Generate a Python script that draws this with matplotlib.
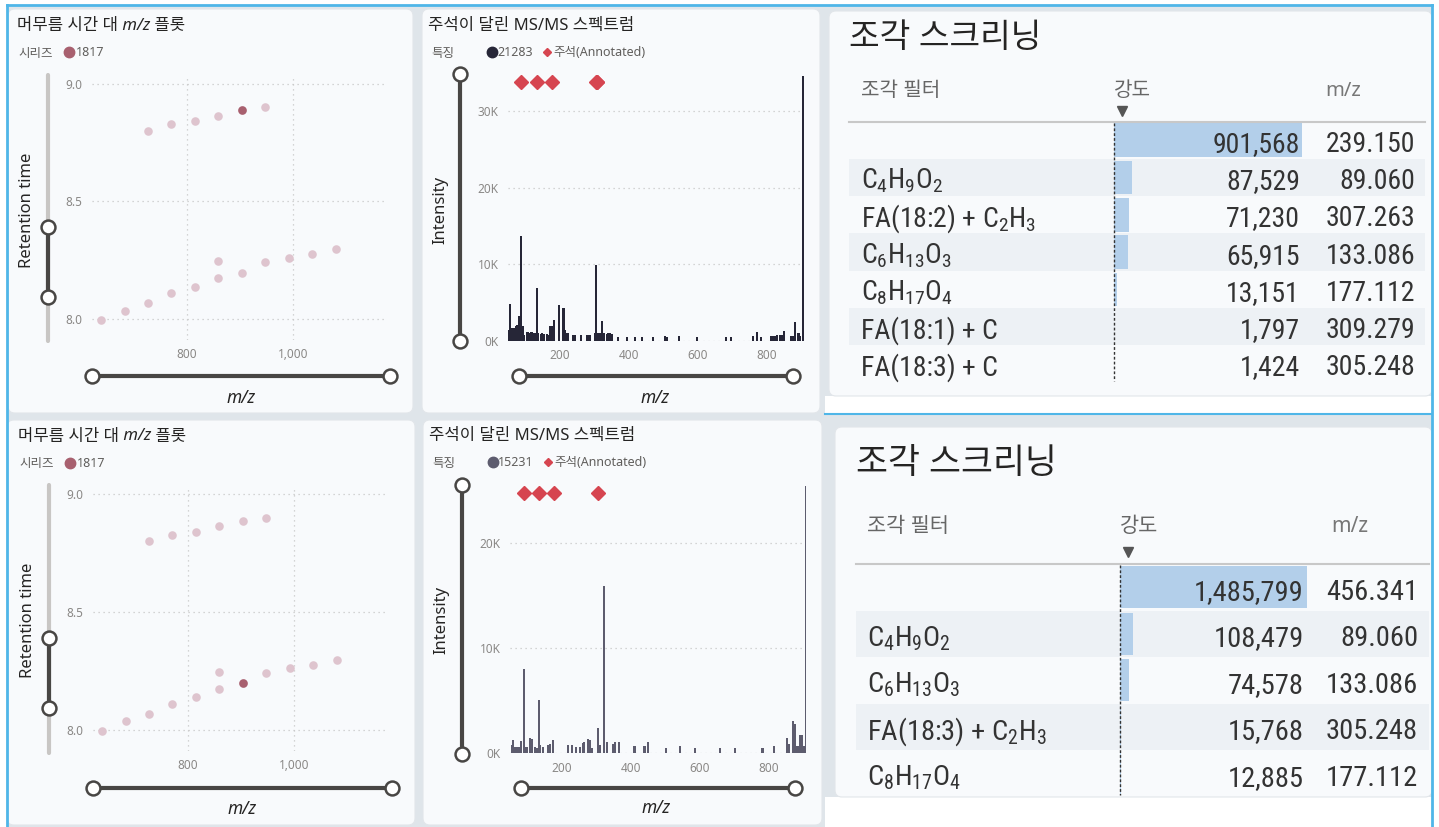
import numpy as np
import matplotlib
matplotlib.use('Agg')
import matplotlib.pyplot as plt
import matplotlib.transforms as mtransforms
from matplotlib import font_manager
from matplotlib.patches import FancyBboxPatch, Rectangle
from matplotlib.ticker import FuncFormatter

W, H = 1439, 827

# retention time vs m/z, two homologous series
upper_mz = [727.4, 771.2, 815.6, 859.3, 903.7, 947.4]
upper_rt = [8.800, 8.827, 8.840, 8.863, 8.887, 8.900]
lower_mz = [639.3, 683.8, 727.4, 771.2, 815.6, 859.3, 859.3, 903.7, 947.4, 991.8, 1035.5, 1079.9]
lower_rt = [7.996, 8.037, 8.068, 8.110, 8.138, 8.175, 8.246, 8.198, 8.243, 8.262, 8.277, 8.298]
series_name = '1817'
sel_top = (903.7, 8.887)
sel_bottom = (903.7, 8.198)

# MS/MS spectrum of feature 21283
feat_top = '21283'
spec_top_mz = [53, 56, 62, 67, 72, 77, 82, 85, 89, 93, 97, 104, 108, 112, 116, 120, 127, 133, 137,
               145, 149, 155, 162, 167, 172, 177, 183, 198, 211, 215, 220, 225, 240, 245, 261, 278,
               283, 288, 302, 306, 310, 317, 322, 327, 336, 341, 347, 352, 370, 394, 418, 438, 470,
               505, 512, 547, 597, 682, 697, 760, 773, 783, 812, 818, 825, 831, 838, 844, 851, 871,
               876, 881, 892, 896, 904]
spec_top_int = [1500, 4800, 1700, 1700, 1900, 2100, 3200, 2000, 13700, 2000, 800, 1200, 1200, 1100,
                1200, 1200, 1000, 6900, 1000, 900, 1100, 900, 900, 800, 2000, 2000, 2800, 4700, 4300,
                1400, 1000, 1000, 800, 800, 800, 800, 800, 800, 1000, 9900, 1000, 1100, 2600, 1000,
                900, 1000, 1000, 900, 500, 500, 500, 500, 500, 700, 500, 600, 550, 550, 550, 600,
                1200, 550, 700, 700, 700, 800, 800, 800, 1300, 600, 600, 2500, 1100, 600, 34600]

# MS/MS spectrum of feature 15231
feat_bottom = '15231'
spec_bot_mz = [54, 59, 64, 69, 74, 81, 89, 93, 98, 107, 112, 122, 127, 133, 136, 146, 160, 165, 175,
               218, 228, 241, 252, 260, 265, 276, 281, 286, 303, 310, 323, 330, 347, 354, 366, 410,
               439, 448, 501, 542, 586, 658, 700, 781, 813, 852, 857, 869, 874, 880, 886, 890, 895,
               900, 906]
spec_bot_int = [800, 1300, 600, 600, 600, 1200, 8000, 600, 600, 1500, 1400, 600, 500, 5100, 800, 600,
                800, 850, 1300, 800, 800, 600, 600, 950, 1100, 1400, 1300, 550, 2400, 800, 15900, 1100,
                850, 1100, 1100, 700, 700, 1050, 550, 700, 550, 550, 550, 550, 700, 1500, 900, 3100,
                2800, 700, 700, 1700, 1700, 700, 25400]

# fragment screening tables
frag_top = ['', 'C$_4$H$_9$O$_2$', 'FA(18:2) + C$_2$H$_3$', 'C$_6$H$_{13}$O$_3$',
            'C$_8$H$_{17}$O$_4$', 'FA(18:1) + C', 'FA(18:3) + C']
int_top = [901568, 87529, 71230, 65915, 13151, 1797, 1424]
mz_top = [239.150, 89.060, 307.263, 133.086, 177.112, 309.279, 305.248]

frag_bot = ['', 'C$_4$H$_9$O$_2$', 'C$_6$H$_{13}$O$_3$', 'FA(18:3) + C$_2$H$_3$', 'C$_8$H$_{17}$O$_4$']
int_bot = [1485799, 108479, 74578, 15768, 12885]
mz_bot = [456.341, 89.060, 133.086, 305.248, 177.112]

# ---- fonts / colours ----
_fonts = font_manager.fontManager.ttflist
_names = {f.name for f in _fonts}
NUM = ['Roboto']
for cand in ['Liberation Sans Narrow', 'Roboto Condensed', 'Open Sans Condensed', 'Noto Sans Display']:
    if cand in _names:
        NUM = [cand]
        break
ITAL = ['Noto Sans'] if any(f.name == 'Noto Sans' and f.style == 'italic' for f in _fonts) else ['DejaVu Sans']
plt.rcParams['font.family'] = ['Noto Sans', 'Noto Sans CJK KR', 'DejaVu Sans']
plt.rcParams['mathtext.default'] = 'regular'

INK = '#252423'
SOFT = '#605e5c'
TICK = '#8a8886'
GRID = '#c8c8c8'
FAINT = '#dec4ce'
HILITE = '#a8606f'
RED = '#d64550'
KNOB = '#484644'
TRACK = '#c8c6c4'
BLUE = '#4fb6e8'
PANEL = '#f8fafc'
BAND = '#edf1f5'
DATABAR = '#b3cfea'

fig = plt.figure(figsize=(W / 100, H / 100), dpi=100)
fig.patch.set_facecolor('#dfe5ea')


def px_axes(x0, y0, x1, y1, z=1):
    ax = fig.add_axes([x0 / W, 1 - y1 / H, (x1 - x0) / W, (y1 - y0) / H], zorder=z)
    ax.set_facecolor('none')
    return ax


bg = px_axes(0, 0, W, H, z=0)
ui = px_axes(0, 0, W, H, z=3)
for a in (bg, ui):
    a.set_xlim(0, W)
    a.set_ylim(H, 0)
    a.axis('off')

# page frame
for r in [(0, 0, W, 5), (0, 0, 7, H), (1432, 0, 7, H), (825, 396, 607, 17), (825, 797, 607, 30)]:
    bg.add_patch(Rectangle(r[:2], r[2], r[3], fc='white', ec='none'))
for (x0, y0, x1, y1) in [(8, 9, 413, 413), (422, 9, 820, 413), (7, 420, 415, 825), (423, 420, 822, 825),
                         (829, 11, 1432, 396), (835, 427, 1432, 797)]:
    bg.add_patch(FancyBboxPatch((x0, y0), x1 - x0, y1 - y0, boxstyle='round,pad=0,rounding_size=7',
                                fc=PANEL, ec='#e2e6ea', lw=0.8))
bg.plot([7, 1432], [5, 5], color=BLUE, lw=2)
bg.plot([7, 7], [5, H], color=BLUE, lw=2)
bg.plot([1432, 1432], [5, H], color=BLUE, lw=2)
bg.plot([825, 1432], [414, 414], color=BLUE, lw=1.5)


def v_slider(x, y0, y1, k0, k1, track=True):
    if track:
        ui.plot([x, x], [y0, y1], color=TRACK, lw=3, solid_capstyle='round')
    ui.plot([x, x], [k0, k1], color=KNOB, lw=3)
    ui.plot([x, x], [k0, k1], 'o', ms=10, mfc='white', mec=KNOB, mew=1.8)


def h_slider(y, x0, x1):
    ui.plot([x0, x1], [y, y], color=KNOB, lw=3)
    ui.plot([x0, x1], [y, y], 'o', ms=10, mfc='white', mec=KNOB, mew=1.8)


def mz_title(x, y, before, after):
    t = ui.text(x, y, before, fontsize=12, color=INK, va='baseline')
    t2 = ui.annotate(' m/z', xy=(1, y), xycoords=(t, 'data'), fontsize=12, color=INK,
                     va='baseline', style='italic', family=ITAL)
    ui.annotate(after, xy=(1, y), xycoords=(t2, 'data'), fontsize=12, color=INK, va='baseline')


def style_axes(ax):
    for s in ax.spines.values():
        s.set_visible(False)
    ax.tick_params(length=0, labelsize=8.5, labelcolor=TICK)


def rt_panel(ox, oy, sel):
    ax = px_axes(91.7 + ox, 75 + oy, 386.7 + ox, 340 + oy)
    ax.set_xlim(622, 1175)
    ax.set_ylim(7.912, 9.037)
    ax.scatter(upper_mz, upper_rt, s=38, color=FAINT, lw=0, zorder=2)
    ax.scatter(lower_mz, lower_rt, s=38, color=FAINT, lw=0, zorder=2)
    ax.scatter([sel[0]], [sel[1]], s=38, color=HILITE, lw=0, zorder=3)
    ax.set_xticks([800, 1000])
    ax.xaxis.set_major_formatter(FuncFormatter(lambda v, p: f'{v:,.0f}'))
    ax.set_yticks([8.0, 8.5, 9.0])
    ax.yaxis.set_major_formatter(FuncFormatter(lambda v, p: f'{v:.1f}'))
    ax.grid(True, ls=(0, (1, 3)), color=GRID, lw=0.9)
    ax.set_axisbelow(True)
    style_axes(ax)
    ax.tick_params(axis='y', pad=7)
    ax.tick_params(axis='x', pad=6)

    mz_title(17 + ox, 30 + oy, '머무름 시간 대', ' 플롯')
    ui.text(18 + ox, 53 + oy, '시리즈', fontsize=9, color=SOFT, va='center')
    ui.plot(69 + ox, 52 + oy, 'o', ms=7.5, color=HILITE)
    ui.text(76 + ox, 53 + oy, series_name, fontsize=9, color=SOFT, va='center')
    ui.text(27 + ox, 210 + oy, 'Retention time', fontsize=12, color=INK, rotation=90,
            ha='center', va='center')
    ui.text(241 + ox, 398 + oy, 'm/z', fontsize=12.5, color=INK, style='italic', family=ITAL,
            ha='center', va='center')


def spectrum_panel(box, xlim, ymax, mz, inten, ann_mz, feat, color, ox, oy):
    ax = px_axes(*box)
    ax.bar(mz, inten, width=6, color=color, lw=0, zorder=2)
    ax.set_xlim(*xlim)
    ax.set_ylim(0, ymax)
    tr = mtransforms.blended_transform_factory(ax.transData, ax.transAxes)
    ax.plot(ann_mz, [0.97] * len(ann_mz), 'D', ms=7.2, color=RED, transform=tr, clip_on=False, zorder=3)
    ax.set_xticks([200, 400, 600, 800])
    ax.set_yticks(np.arange(0, ymax, 10000))
    ax.yaxis.set_major_formatter(FuncFormatter(lambda v, p: f'{v / 1000:.0f}K'))
    ax.yaxis.grid(True, ls=(0, (1, 3)), color=GRID, lw=0.9)
    ax.set_axisbelow(True)
    style_axes(ax)
    ax.tick_params(axis='y', pad=7)
    ax.tick_params(axis='x', pad=6)

    ui.text(428 + ox, 30 + oy, '주석이 달린 MS/MS 스펙트럼', fontsize=12, color=INK, va='baseline')
    ui.text(431 + ox, 53 + oy, '특징', fontsize=9, color=SOFT, va='center')
    ui.plot(492 + ox, 52 + oy, 'o', ms=7.5, color=color)
    ui.text(497 + ox, 53 + oy, feat, fontsize=9, color=SOFT, va='center')
    ui.plot(547 + ox, 52 + oy, 'D', ms=4.5, color=RED)
    ui.text(553 + ox, 53 + oy, '주석(Annotated)', fontsize=9, color=SOFT, va='center')
    ui.text(440 + ox, 210 + oy, 'Intensity', fontsize=12, color=INK, rotation=90,
            ha='center', va='center')
    ui.text(655 + ox, 398 + oy, 'm/z', fontsize=12.5, color=INK, style='italic', family=ITAL,
            ha='center', va='center')


def frag_table(g, labels, ints, mzs):
    n = len(ints)
    y0, rh = g['line_y'], g['row_h']
    for i in range(1, n, 2):
        bg.add_patch(Rectangle((g['left'], y0 + i * rh), g['right'] - g['left'], rh, fc=BAND, ec='none'))
    axb = px_axes(g['dash_x'], y0, g['bar_x1'], y0 + n * rh, z=1)
    axb.set_xlim(0, max(ints))
    axb.set_ylim(n - 0.5, -0.5)
    axb.barh(range(n), ints, height=0.9, color=DATABAR, lw=0)
    axb.axis('off')

    ui.text(g['left'], g['title_y'], '조각 스크리닝', fontsize=g['title_fs'], color=INK, va='center')
    hy = g['head_y']
    ui.text(g['lab_x'], hy, '조각 필터', fontsize=g['head_fs'], color='#666666', va='center')
    ui.text(g['dash_x'], hy, '강도', fontsize=g['head_fs'], color='#666666', va='center')
    ui.text(g['mz_head'], hy, 'm/z', fontsize=g['head_fs'], color='#777777', va='center')
    ui.plot(g['dash_x'] + 8, g['tri_y'], 'v', ms=7, color='#555555')
    ui.plot([g['left'], g['right']], [y0, y0], color='#c8c8c8', lw=1.5)
    ui.plot([g['dash_x'], g['dash_x']], [y0 + 1, y0 + n * rh - 2], color='#333333', lw=1,
            ls=(0, (2, 1.5)))
    for i in range(n):
        yb = y0 + (i + 0.5) * rh + g['base_off']
        ui.text(g['lab_x'], yb, labels[i], fontsize=g['fs'], color='#333333', va='baseline', family=NUM)
        ui.text(g['val_x'], yb, f'{ints[i]:,}', fontsize=g['fs'], color='#333333', va='baseline',
                ha='right', family=NUM)
        ui.text(g['mz_x'], yb, f'{mzs[i]:.3f}', fontsize=g['fs'], color='#333333', va='baseline',
                ha='right', family=NUM)


rt_panel(0, 0, sel_top)
rt_panel(1, 410.5, sel_bottom)
v_slider(48, 75, 341, 227, 297)
h_slider(376, 92, 390)
v_slider(49, 485, 753, 638, 708)
h_slider(788, 93, 392)

spectrum_panel((508, 74, 804, 341), (50.1, 908), 34830, spec_top_mz, spec_top_int,
               mz_top[1:], feat_top, '#262637', 0, 0)
spectrum_panel((510, 485, 806, 753.3), (49.3, 907), 25480, spec_bot_mz, spec_bot_int,
               mz_bot[1:], feat_bottom, '#5d5c6e', 1, 410)
v_slider(460, 74, 341, 74, 341, track=False)
h_slider(376, 519, 793)
v_slider(462, 485, 754, 485, 754, track=False)
h_slider(788, 521, 795)

frag_table(dict(left=849, right=1425, title_y=38, title_fs=24, head_y=91, head_fs=14.5, lab_x=861,
                tri_y=111, line_y=121.5, row_h=37.3, dash_x=1114, bar_x1=1302, val_x=1300,
                mz_x=1415, mz_head=1325, fs=20, base_off=11.5),
           frag_top, int_top, mz_top)
frag_table(dict(left=856, right=1429, title_y=464, title_fs=25, head_y=527, head_fs=15, lab_x=867,
                tri_y=552, line_y=564, row_h=46.5, dash_x=1119.5, bar_x1=1307, val_x=1304,
                mz_x=1418, mz_head=1331, fs=20.5, base_off=12.5),
           frag_bot, int_bot, mz_bot)

fig.savefig('out.png', dpi=100, facecolor=fig.get_facecolor())
